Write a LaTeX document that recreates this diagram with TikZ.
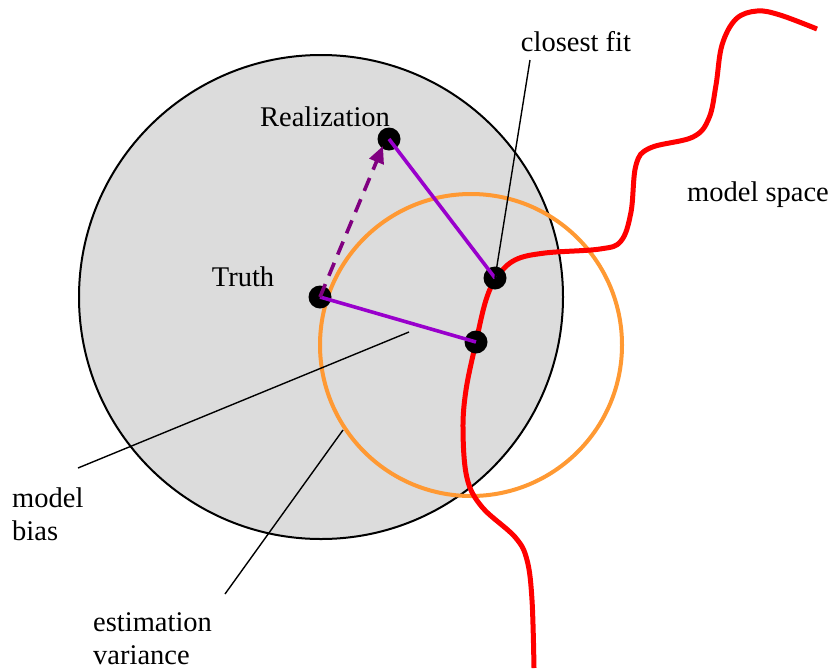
\documentclass[tikz,border=0pt]{standalone}
\usepackage{fontspec}
\setmainfont{Liberation Serif}
\usetikzlibrary{arrows.meta}
\begin{document}
\begin{tikzpicture}[x=1pt,y=-1pt,
  lbl/.style={font=\fontsize{28.5}{33}\selectfont, inner sep=0pt},
  dot/.style={circle, fill=black, minimum size=23pt, inner sep=0pt},
  link/.style={draw={rgb,255:red,153;green,0;blue,204}, line width=3.6pt},
  leader/.style={draw=black, line width=1.4pt}]
\useasboundingbox (0,0) rectangle (833,670);
\definecolor{bg}{RGB}{220,220,220}
\definecolor{orng}{RGB}{255,153,51}
\definecolor{dpurp}{RGB}{128,0,128}
% circles
\draw[fill=bg, line width=2pt] (321,297) circle (242);
\draw[orng, line width=4pt] (471,345) circle (151);
% red model space curve
\draw[red, line width=5pt] plot[smooth, tension=0.6] coordinates {
 (534,668) (532,600) (527,560) (515,537) (482,507) (467,478) (463,430) (466,390) (476,342)
 (486,300) (497,277) (515,260) (545,253) (600,249) (621,241) (631,212) (636,165) (650,148)
 (693,137) (709,118) (716,85) (722,45) (736,19) (757,11) (780,15) (817,29)};
% points
\node[dot] (truth) at (320,297) {};
\node[dot] (real) at (389,139) {};
\node[dot] (proj) at (476,342) {};
\node[dot] (fit) at (495,278) {};
% links
\draw[link] (truth.center) -- (proj.center);
\draw[link] (real.center) -- (fit.center);
\draw[dpurp, line width=3.6pt, dash pattern=on 14pt off 9pt, -{Triangle[length=17pt,width=15pt]}] (truth.center) -- (383,146);
% labels
\node[lbl] (lreal) at (325,117) {Realization};
\node[lbl] (ltruth) at (243,277) {Truth};
\node[lbl] (lfit) at (576,42) {closest fit};
\node[lbl] (lspace) at (758,195) {model space};
\node[lbl, anchor=west, align=left] (lbias) at (12,514) {model\\bias};
\node[lbl, anchor=west, align=left] (lvar) at (93,639) {estimation\\variance};
% leaders
\coordinate (cb) at (409,332);
\coordinate (bb) at (78,468);
\coordinate (cv) at (343,430);
\coordinate (bv) at (225,594);
\coordinate (tf) at (530,60);
\draw[leader] (tf) -- (fit.center);
\draw[leader] (bb) -- (cb);
\draw[leader] (bv) -- (cv);
\end{tikzpicture}
\end{document}
